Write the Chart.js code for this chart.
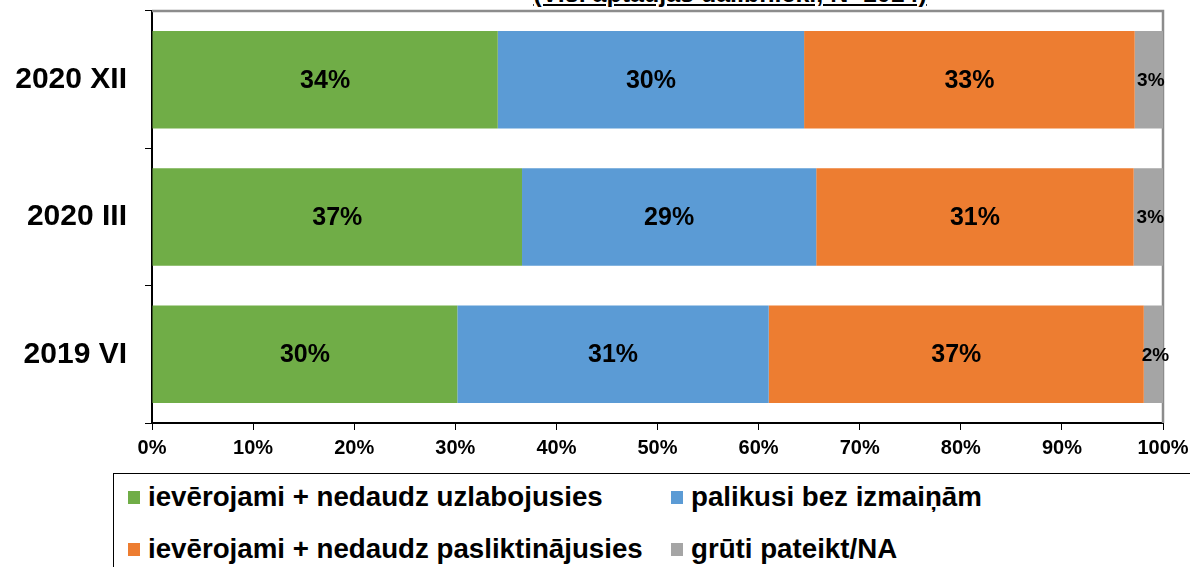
<!DOCTYPE html>
<html>
<head>
<meta charset="utf-8">
<script src="https://cdn.jsdelivr.net/npm/chart.js@4"></script>
<style>
    body { margin: 0; background: #fff; font-family: Arial, "Liberation Sans", sans-serif; }
    #wrap { position: relative; width: 1190px; height: 567px; overflow: hidden; }
    #chartBox { position: absolute; left: 0; top: 0; width: 1190px; height: 465px; }
    #subtitle { position: absolute; left: 0; width: 1460px; top: -21px; line-height: 28px; text-align: center; font-weight: bold; font-size: 25px; text-decoration: underline; }
    #legend { position: absolute; left: 113px; top: 473px; width: 1100px; height: 120px; border: 1.5px solid #000; box-sizing: border-box; }
    .item { position: absolute; font-weight: bold; font-size: 27.7px; line-height: 30px; color: #000; white-space: nowrap; }
    .item span { display: inline-block; width: 12px; height: 13px; margin-right: 8px; vertical-align: 2px; }
</style>
</head>
<body>
<div id="wrap">
    <div id="subtitle">(Visi aptaujas dalībnieki, N=1014)</div>
    <div id="chartBox"><canvas id="chart"></canvas></div>
    <div id="legend"></div>
</div>
<script>
// survey periods (top to bottom)
const periods = ['2020 XII', '2020 III', '2019 VI'];

// answer shares, % of respondents
const improved = [34.2, 36.6, 30.2];
const unchanged = [30.3, 29.1, 30.8];
const worsened = [32.7, 31.4, 37.1];
const hardToSay = [2.8, 2.9, 1.9];

// labels printed on bars
const improvedLabels = ['34%', '37%', '30%'];
const unchangedLabels = ['30%', '29%', '31%'];
const worsenedLabels = ['33%', '31%', '37%'];
const hardToSayLabels = ['3%', '3%', '2%'];

const seriesNames = [
    'ievērojami + nedaudz uzlabojusies',
    'palikusi bez izmaiņām',
    'ievērojami + nedaudz pasliktinājusies',
    'grūti pateikt/NA'
];
const colors = ['#70AD47', '#5B9BD5', '#ED7D31', '#A5A5A5'];

// legend in HTML
const legendPos = [[14, 8], [557, 8], [14, 60], [557, 60]];
const legendEl = document.getElementById('legend');
seriesNames.forEach((name, i) => {
    const div = document.createElement('div');
    div.className = 'item';
    div.style.left = legendPos[i][0] + 'px';
    div.style.top = legendPos[i][1] + 'px';
    div.innerHTML = '<span style="background:' + colors[i] + '"></span>' + name;
    legendEl.appendChild(div);
});

// draw the percent text in the middle of each bar
const barLabels = {
    id: 'barLabels',
    afterDatasetsDraw(chart) {
        const ctx = chart.ctx;
        const allLabels = [improvedLabels, unchangedLabels, worsenedLabels, hardToSayLabels];
        ctx.save();
        ctx.fillStyle = '#000';
        ctx.textAlign = 'center';
        ctx.textBaseline = 'middle';
        chart.data.datasets.forEach((ds, di) => {
            const meta = chart.getDatasetMeta(di);
            ctx.font = di === 3 ? 'bold 19px Arial' : 'bold 25px Arial';
            meta.data.forEach((bar, i) => {
                const x = (bar.x + bar.base) / 2 + (di === 3 ? 2 : 0);
                ctx.fillText(allLabels[di][i], x, bar.y + 1);
            });
        });
        ctx.restore();
    }
};

// gray top and right frame of the plot area
const frame = {
    id: 'frame',
    beforeDatasetsDraw(chart) {
        const { ctx, chartArea: a } = chart;
        ctx.save();
        ctx.strokeStyle = '#8c8c8c';
        ctx.lineWidth = 2.5;
        ctx.beginPath();
        ctx.moveTo(a.left, a.top);
        ctx.lineTo(a.right, a.top);
        ctx.lineTo(a.right, a.bottom);
        ctx.stroke();
        ctx.restore();
    }
};

const datasets = [improved, unchanged, worsened, hardToSay].map((vals, i) => ({
    label: seriesNames[i],
    data: vals,
    backgroundColor: colors[i],
    borderWidth: 0,
    categoryPercentage: 0.71,
    barPercentage: 1.0
}));

new Chart(document.getElementById('chart'), {
    type: 'bar',
    data: { labels: periods, datasets: datasets },
    options: {
        indexAxis: 'y',
        responsive: true,
        maintainAspectRatio: false,
        animation: false,
        layout: { padding: { top: 11, right: 27, left: 0, bottom: 0 } },
        plugins: { legend: { display: false }, tooltip: { enabled: false } },
        scales: {
            x: {
                stacked: true,
                min: 0,
                max: 100,
                afterFit(scale) { scale.height = 42; scale.paddingLeft = 0; scale.paddingRight = 0; },
                ticks: {
                    stepSize: 10,
                    callback: v => v + '%',
                    color: '#000',
                    font: { family: 'Arial', size: 20, weight: 'bold' },
                    padding: 6,
                    maxRotation: 0
                },
                grid: { drawOnChartArea: false, drawTicks: true, tickLength: 7, color: '#000' },
                border: { color: '#000', width: 2 }
            },
            y: {
                stacked: true,
                afterFit(scale) { scale.width = 152; scale.paddingTop = 0; scale.paddingBottom = 0; },
                ticks: {
                    color: '#000',
                    font: { family: 'Arial', size: 30, weight: 'bold' },
                    padding: 18
                },
                grid: { drawOnChartArea: false, drawTicks: true, tickLength: 7, color: '#000', offset: true },
                border: { color: '#000', width: 2 }
            }
        }
    },
    plugins: [frame, barLabels]
});
</script>
</body>
</html>
